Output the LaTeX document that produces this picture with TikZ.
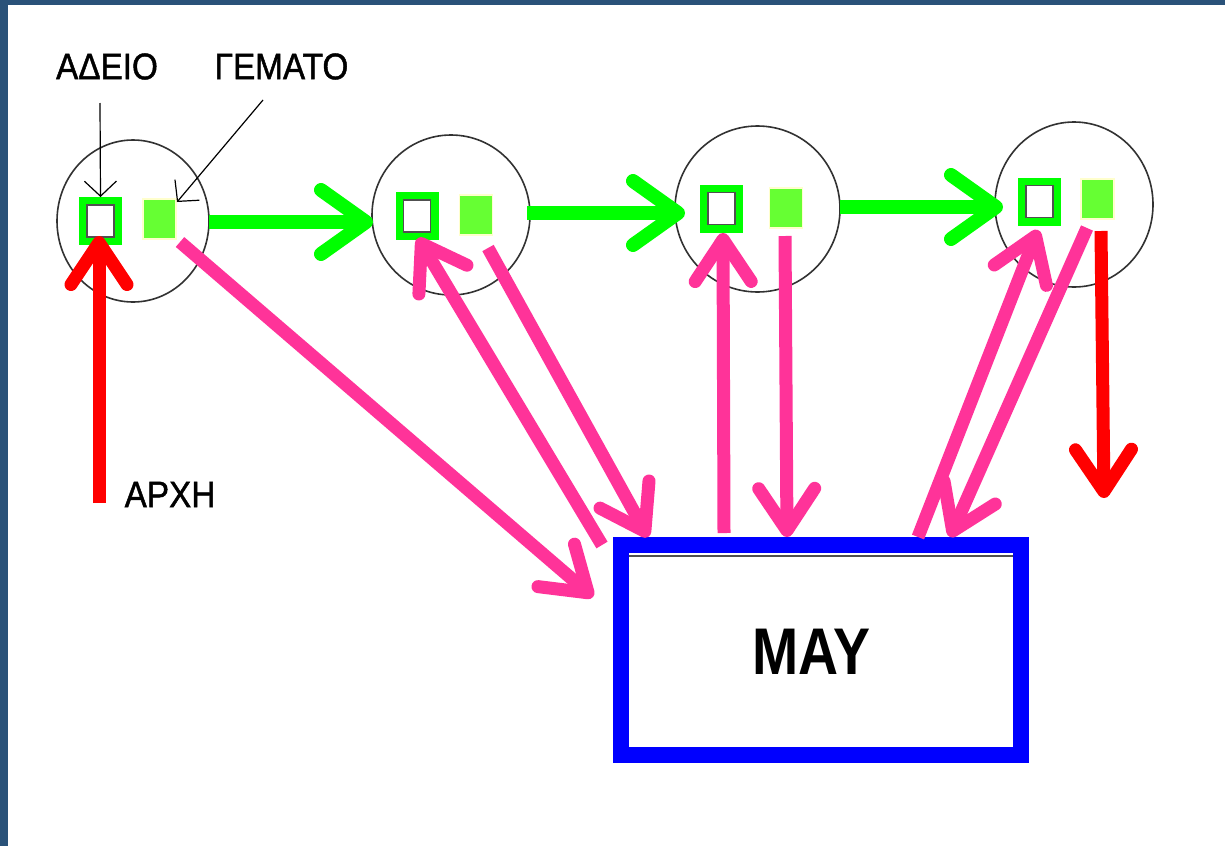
\documentclass[tikz,border=0pt]{standalone}
\usepackage{fontspec}
\setmainfont{Liberation Sans}
\newfontfamily\labelfont{Liberation Sans}[FakeStretch=0.9, FakeBold=1.2]
\newfontfamily\boxfont{Liberation Sans}[FakeStretch=0.84]
\usetikzlibrary{arrows.meta,shapes.geometric,calc}

\definecolor{frame}{RGB}{42,82,121}
\definecolor{flow}{RGB}{0,255,0}
\definecolor{fullc}{RGB}{102,255,51}
\definecolor{paleedge}{RGB}{255,255,204}
\definecolor{memlink}{RGB}{255,51,153}
\definecolor{startred}{RGB}{255,0,0}
\definecolor{membox}{RGB}{0,0,255}
\definecolor{ring}{RGB}{50,50,50}
\definecolor{innergray}{RGB}{80,80,80}

\tikzset{
  slot/.style={ellipse, draw=ring, line width=1.6pt, inner sep=0pt, outer sep=0pt},
  emptycell/.style={rectangle, draw=flow, line width=8pt, fill=white,
    minimum width=35pt, minimum height=40pt, inner sep=0pt, outer sep=0pt},
  fullcell/.style={rectangle, draw=paleedge, line width=1.2pt, fill=fullc,
    minimum width=33pt, minimum height=40pt, inner sep=0pt, outer sep=0pt},
  innerline/.style={draw=innergray, line width=1.5pt},
  nextarrow/.style={draw=flow, line width=14pt,
    -{Straight Barb[round, length=45pt, width=64pt]}},
  memarrow/.style={draw=memlink, line width=13pt,
    -{Straight Barb[round, length=42pt, width=56pt]}},
  startarrow/.style={draw=startred, line width=13pt,
    -{Straight Barb[round, length=42pt, width=56pt]}},
  annot/.style={draw=black, line width=1.2pt,
    -{Straight Barb[length=15pt, width=32pt]}},
  caption/.style={inner sep=0pt, font=\labelfont\fontsize{37}{37}\selectfont},
  memory/.style={rectangle, draw=membox, line width=16pt, fill=white,
    minimum width=400pt, minimum height=210pt, inner sep=0pt, outer sep=8pt},
}

\begin{document}
\begin{tikzpicture}[x=1pt, y=-1pt]
  % page with a dark frame on the left and top
  \useasboundingbox (0,0) rectangle (1225,846);
  \fill[frame] (0,0) rectangle (1225,846);
  \fill[white] (8,5) rectangle (1225,846);

  % the four slots of the ring
  \node[slot, minimum width=152pt, minimum height=162pt] (c1) at (133,221) {};
  \node[slot, minimum width=158pt, minimum height=160pt] (c2) at (451,215) {};
  \node[slot, minimum width=165pt, minimum height=166pt] (c3) at (757.5,209) {};
  \node[slot, minimum width=158pt, minimum height=165pt] (c4) at (1074,204.5) {};

  % empty / full flags of each slot
  \node[emptycell] (e1) at (100.5,221) {};
  \node[emptycell] (e2) at (417,216) {};
  \node[emptycell] (e3) at (721.5,208.5) {};
  \node[emptycell] (e4) at (1039.5,201.5) {};
  \foreach \n in {e1,e2,e3,e4}
    \draw[innerline] ($(\n.north west)+(4,4)$) rectangle ($(\n.south east)+(-4,-4)$);

  \node[fullcell] (f1) at (159.5,219) {};
  \node[fullcell] (f2) at (476,215) {};
  \node[fullcell] (f3) at (786,208) {};
  \node[fullcell] (f4) at (1097.5,199) {};

  % memory block
  \node[memory] (box) at (821,650) {};
  \draw[innergray, line width=2pt] (629,555.5) -- (1013,555.5);
  \node[inner sep=0pt, font=\boxfont\bfseries\fontsize{66}{66}\selectfont]
    (lblMem) at (811.5,652) {ΜΑΥ};

  % captions
  \node[caption] (lblEmpty) at (107,66.5) {ΑΔΕΙΟ};
  \node[caption] (lblFull) at (281.5,66.5) {ΓΕΜΑΤΟ};
  \node[caption] (lblStart) at (170,494.5) {ΑΡΧΗ};

  \coordinate (pE) at (100,103);
  \coordinate (pF) at (263,100);
  \draw[annot] (pE) -- ($(e1.north)+(0,-4)$);
  \draw[annot] (pF) -- ($(f1.north east)+(1,3)$);

  % passing from slot to slot
  \draw[nextarrow] ($(c1.east)+(0,1)$) -- ($(c2.west |- c1.east)+(1,1)$);
  \draw[nextarrow] ($(c2.east)+(-3,-2)$) -- ($(c3.west |- c2.east)+(10,-2)$);
  \draw[nextarrow] ($(c3.east)+(0,-2)$) -- ($(c4.west |- c3.east)+(8,-2)$);

  % traffic between slots and memory
  \draw[memarrow] ($(f1.south east)+(4,3)$) -- ($(box.north west)+(-20,60)$);
  \draw[memarrow] ($(box.north west)+(-11,8)$) -- ($(e2.south)+(1,2)$);
  \draw[memarrow] ($(f2.south east)+(-4.5,13)$) -- ($(box.north west)+(35,0)$);
  \draw[memarrow] ($(box.north west)+(111,-4)$) -- ($(e3.south)+(1.5,4.5)$);
  \draw[memarrow] ($(f3.south)+(-1,8)$) -- ($(box.north west)+(174,0)$);
  \draw[memarrow] ($(box.north west)+(305,0)$) -- ($(e4.south)+(-1.5,8.5)$);
  \draw[memarrow] ($(f4.south)+(-10.5,9)$) -- ($(box.north west)+(337,0)$);

  % start and end
  \coordinate (startpt) at (99,503);
  \coordinate (endpt) at (1104,498);
  \draw[startarrow] (startpt) -- ($(e1.south)+(-1.5,-5)$);
  \draw[startarrow] ($(f4.south)+(3.5,12)$) -- (endpt);
\end{tikzpicture}
\end{document}
